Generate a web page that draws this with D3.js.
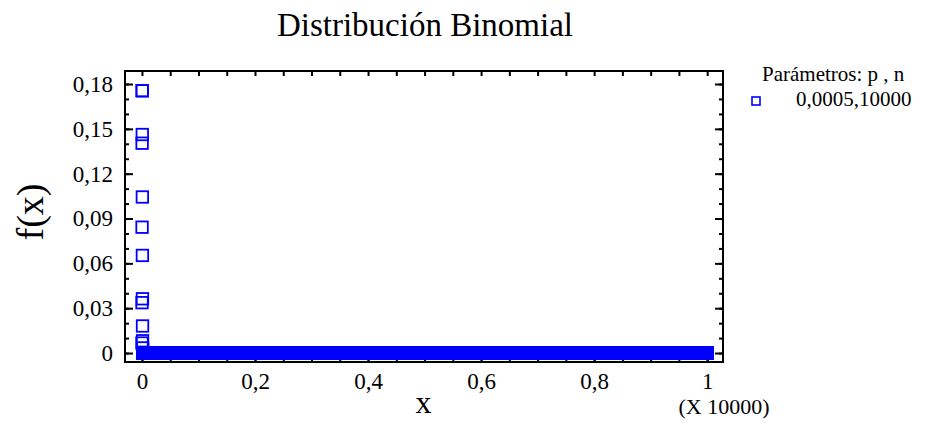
<!DOCTYPE html>
<html>
<head>
<meta charset="utf-8">
<script src="https://cdn.jsdelivr.net/npm/d3@7"></script>
<style>
  body { margin: 0; background: #fff; }
  text { font-family: "Liberation Serif", "Times New Roman", serif; fill: #000; }
</style>
</head>
<body>
<div id="chart"></div>
<script>
// values: f(x) for the first x values
var peakX = [0, 1, 2, 3, 4, 5, 6, 7, 8, 9, 10, 11, 12];
var peakY = [0.0067, 0.0337, 0.0842, 0.1404, 0.1755, 0.1755, 0.1462, 0.1044, 0.0653, 0.0363, 0.0181, 0.0082, 0.0034];
// the rest of the points sit on zero, up to n
var tailStart = 13, tailEnd = 10000, tailValue = 0;

var xTicks = [0, 2000, 4000, 6000, 8000, 10000];
var yTicks = [0, 0.03, 0.06, 0.09, 0.12, 0.15, 0.18];
var title = "Distribución Binomial";
var legendTitle = "Parámetros: p , n";
var legendLabel = "0,0005,10000";

var width = 927, height = 438;
var margin = { top: 71, right: 204, bottom: 76, left: 125 };
var blue = "#0000ff";

var svg = d3.select("#chart").append("svg")
    .attr("width", width)
    .attr("height", height);

var x = d3.scaleLinear().domain([-300, 10280])
    .range([margin.left, width - margin.right]);
var y = d3.scaleLinear().domain([-0.006, 0.1887])
    .range([height - margin.bottom, margin.top]);

var points = peakX.map(function (d, i) { return { x: d, y: peakY[i] }; });
d3.range(tailStart, tailEnd + 1).forEach(function (d) {
    points.push({ x: d, y: tailValue });
});

var fmtX = function (d) { return d === 0 ? "0" : String(+(d / 10000).toFixed(1)).replace(".", ","); };
var fmtY = function (d) { return d === 0 ? "0" : d3.format(".2f")(d).replace(".", ","); };

// y axis left: labels + major ticks, then minor ticks
svg.append("g")
    .attr("transform", "translate(" + margin.left + ",0)")
    .call(d3.axisLeft(y).tickValues(yTicks).tickSize(-8).tickPadding(12).tickFormat(fmtY))
    .call(function (g) { g.select(".domain").remove(); })
    .call(function (g) { g.selectAll("text").attr("font-size", 23).attr("font-family", null); });
svg.append("g")
    .attr("transform", "translate(" + margin.left + ",0)")
    .call(d3.axisLeft(y).tickValues(d3.range(0, 0.185, 0.01)).tickSize(-4).tickFormat(""))
    .call(function (g) { g.select(".domain").remove(); });

// y axis right: ticks only
svg.append("g")
    .attr("transform", "translate(" + (width - margin.right) + ",0)")
    .call(d3.axisRight(y).tickValues(yTicks).tickSize(-8).tickFormat(""))
    .call(function (g) { g.select(".domain").remove(); });
svg.append("g")
    .attr("transform", "translate(" + (width - margin.right) + ",0)")
    .call(d3.axisRight(y).tickValues(d3.range(0, 0.185, 0.01)).tickSize(-4).tickFormat(""))
    .call(function (g) { g.select(".domain").remove(); });

// x axis bottom
svg.append("g")
    .attr("transform", "translate(0," + (height - margin.bottom) + ")")
    .call(d3.axisBottom(x).tickValues(xTicks).tickSize(-8).tickPadding(11).tickFormat(fmtX))
    .call(function (g) { g.select(".domain").remove(); })
    .call(function (g) { g.selectAll("text").attr("font-size", 23).attr("font-family", null); });
svg.append("g")
    .attr("transform", "translate(0," + (height - margin.bottom) + ")")
    .call(d3.axisBottom(x).tickValues(d3.range(0, 10001, 500)).tickSize(-4).tickFormat(""))
    .call(function (g) { g.select(".domain").remove(); });

// x axis top: ticks only
svg.append("g")
    .attr("transform", "translate(0," + margin.top + ")")
    .call(d3.axisTop(x).tickValues(d3.range(0, 10001, 500)).tickSize(-5).tickFormat(""))
    .call(function (g) { g.select(".domain").remove(); });

svg.selectAll(".tick line").attr("stroke", "#000").attr("stroke-width", 2);

// frame
svg.append("rect")
    .attr("x", margin.left)
    .attr("y", margin.top)
    .attr("width", width - margin.left - margin.right)
    .attr("height", height - margin.top - margin.bottom)
    .attr("fill", "none")
    .attr("stroke", "#000")
    .attr("stroke-width", 2);

// points
var s = 11.5;
svg.append("g").selectAll("rect")
    .data(points)
    .enter()
    .append("rect")
    .attr("x", function (d) { return x(d.x) - s / 2; })
    .attr("y", function (d) { return y(d.y) - s / 2; })
    .attr("width", s)
    .attr("height", s)
    .attr("fill", "none")
    .attr("stroke", blue)
    .attr("stroke-width", 1.8);

// titles
svg.append("text")
    .attr("x", 425).attr("y", 36)
    .attr("text-anchor", "middle")
    .attr("font-size", 33)
    .text(title);

svg.append("text")
    .attr("transform", "translate(43,212) rotate(-90)")
    .attr("text-anchor", "middle")
    .attr("font-size", 38)
    .text("f(x)");

svg.append("text")
    .attr("x", x(5000) - 1).attr("y", 413)
    .attr("text-anchor", "middle")
    .attr("font-size", 32)
    .text("x");

svg.append("text")
    .attr("x", 724).attr("y", 414)
    .attr("text-anchor", "middle")
    .attr("font-size", 22)
    .text("(X 10000)");

// legend
svg.append("text")
    .attr("x", 762).attr("y", 81)
    .attr("font-size", 21)
    .text(legendTitle);
svg.append("rect")
    .attr("x", 752).attr("y", 97)
    .attr("width", 8).attr("height", 8)
    .attr("fill", "none")
    .attr("stroke", blue)
    .attr("stroke-width", 1.6);
svg.append("text")
    .attr("x", 796).attr("y", 106)
    .attr("font-size", 21)
    .text(legendLabel);
</script>
</body>
</html>
